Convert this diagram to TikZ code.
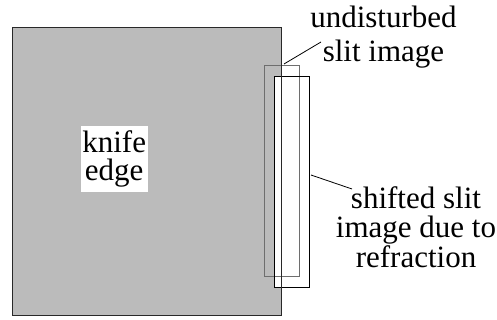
\documentclass[tikz,border=0pt]{standalone}
\usepackage{fontspec}
\setmainfont{Liberation Serif}
\begin{document}
\begin{tikzpicture}[x=1pt,y=1pt,
  lbl/.style={align=center,inner sep=0pt,font=\fontsize{31}{33}\selectfont},
  leader/.style={draw=black,line width=0.8pt}]
\useasboundingbox (0,0) rectangle (497,320);
% knife edge square
\fill[fill={rgb,255:red,187;green,187;blue,187}] (12,292) rectangle (281,4);
% shifted slit fill
\fill[white] (274,243) rectangle (309,32);
% undisturbed slit image
\draw[draw={rgb,255:red,110;green,110;blue,110},line width=1pt] (264,254) rectangle (299,43);
% shifted slit outline
\draw[black,line width=1pt] (274,243) rectangle (309,32);
% square border
\draw[draw={rgb,255:red,40;green,40;blue,40},line width=1pt] (12,292) rectangle (281,4);
% labels
\node[lbl,fill=white,inner xsep=1.7pt,inner ysep=4.5pt,font=\fontsize{31}{28.3}\selectfont] (knife) at (114.2,161) {knife\\edge};
\node[lbl,font=\fontsize{31}{33.3}\selectfont] (undist) at (383.5,283) {undisturbed\\slit image};
\node[lbl,font=\fontsize{31}{29.3}\selectfont] (shifted) at (416,93) {shifted slit\\image due to\\refraction};
% leaders
\coordinate (u1) at (284,256);
\coordinate (u2) at (321,278);
\coordinate (s1) at (311,145);
\coordinate (s2) at (352,131);
\draw[leader] (u1) -- (u2);
\draw[leader] (s1) -- (s2);
\end{tikzpicture}
\end{document}
